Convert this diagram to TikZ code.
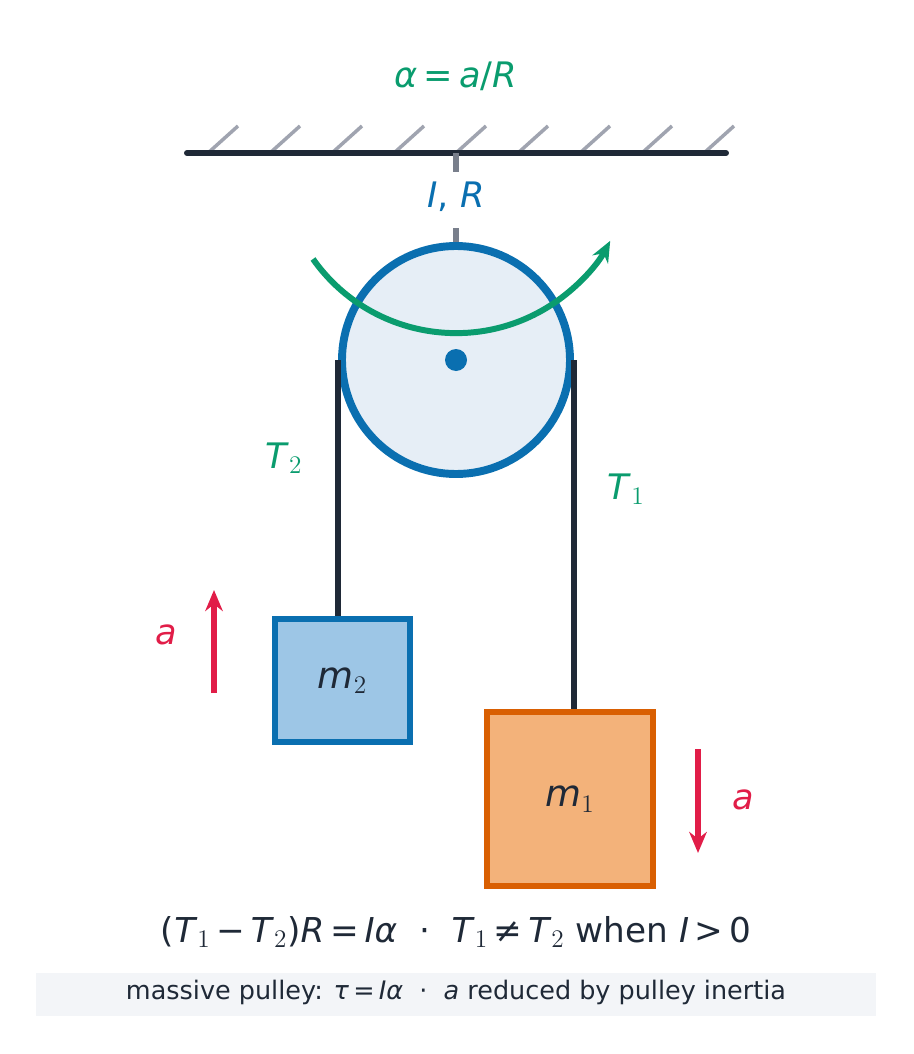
\documentclass[tikz,border=0pt]{standalone}
\usepackage{fontspec}
\setmainfont{DejaVu Sans}
\usetikzlibrary{arrows.meta, positioning, calc}
\definecolor{ink}{HTML}{1F2937}
\definecolor{hatch}{HTML}{A0A4B0}
\definecolor{pblue}{HTML}{0A6FB0}
\definecolor{pfill}{HTML}{E6EEF6}
\definecolor{tgreen}{HTML}{0A9C6E}
\definecolor{ared}{HTML}{E11D48}
\definecolor{bfill}{HTML}{9DC6E6}
\definecolor{ofill}{HTML}{F3B27A}
\definecolor{oline}{HTML}{D95F02}
\definecolor{capbg}{HTML}{F3F5F8}
\tikzset{
  >={Stealth[length=12pt,width=10pt]},
  rope/.style={ink, line width=3.4pt},
  mass/.style={draw, line width=3.4pt, inner sep=0pt},
  glabel/.style={text=tgreen, font=\fontsize{20}{24}\selectfont},
  accel/.style={ared, line width=3.4pt, ->},
}
\begin{document}
\begin{tikzpicture}[x=0.02cm, y=-0.02cm]
  \useasboundingbox (0,0) rectangle (913,1054);
  % ceiling ----------------------------------------
  \foreach \x in {208,270,...,704}
    \draw[hatch, line width=2pt] (\x,153) -- ++(30,-27);
  \draw[ink, line width=3.4pt, line cap=round] (187,153) -- (726,153);
  \node[glabel] (alpha) at (456,76) {\textit{α}\,=\,\textit{a}/\textit{R}};

  % pulley -----------------------------------------
  \draw[hatch!70!ink, line width=3.4pt] (456,153) -- (456,172) (456,228) -- (456,246);
  \node[circle, minimum size=228*0.02cm, fill=pfill, draw=pblue, line width=4.5pt] (pulley) at (456,360) {};
  \fill[pblue] (pulley.center) circle (11);
  \draw[tgreen, line width=3.4pt, ->] (313,259) arc[start angle=144.8, end angle=28.2, radius=175];
  \node[fill=white, inner sep=3pt, text=pblue, font=\fontsize{20}{24}\selectfont] (IR) at (456,197) {\textit{I},\ \textit{R}};

  % masses -----------------------------------------
  \node[mass, draw=pblue, fill=bfill, minimum width=135*0.02cm, minimum height=123*0.02cm,
        font=\fontsize{21}{25}\selectfont, text=ink] (m2) at (342.5,680.5) {\textit{m}$_2$};
  \node[mass, draw=oline, fill=ofill, minimum width=166*0.02cm, minimum height=174*0.02cm,
        font=\fontsize{21}{25}\selectfont, text=ink] (m1) at (570,799) {\textit{m}$_1$};
  \draw[rope] (pulley.west) -- (pulley.west |- m2.north);
  \draw[rope] (pulley.east) -- (pulley.east |- m1.north);
  \node[glabel] (T2) at (284,458) {\textit{T}$_2$};
  \node[glabel] (T1) at (626,489) {\textit{T}$_1$};

  % accelerations ----------------------------------
  \coordinate (a2s) at (214,693);
  \coordinate (a2e) at (214,590);
  \draw[accel] (a2s) -- (a2e);
  \node[text=ared, font=\fontsize{20}{24}\selectfont] (a2) at (166,635) {\textit{a}};
  \coordinate (a1s) at (698,749);
  \coordinate (a1e) at (698,853);
  \draw[accel] (a1s) -- (a1e);
  \node[text=ared, font=\fontsize{20}{24}\selectfont] (a1) at (743,800) {\textit{a}};

  % captions ---------------------------------------
  \node[text=ink, font=\fontsize{19.5}{24}\selectfont] (eq) at (456,932)
    {(\textit{T}$_1$\,−\,\textit{T}$_2$)\textit{R}\,=\,\textit{Iα}\ \ ·\ \ \textit{T}$_1$\,≠\,\textit{T}$_2$ when \textit{I}\,>\,0};
  \fill[capbg] (36,973) rectangle (876,1016);
  \node[text=ink, font=\fontsize{14.5}{18}\selectfont] (note) at (456,992)
    {massive pulley: \textit{τ}\,=\,\textit{Iα}\ \ ·\ \ \textit{a} reduced by pulley inertia};
\end{tikzpicture}
\end{document}
